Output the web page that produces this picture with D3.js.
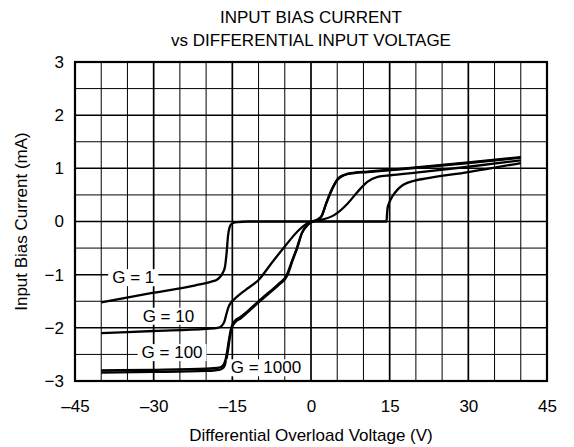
<!DOCTYPE html>
<html>
<head>
<meta charset="utf-8">
<script src="https://cdn.jsdelivr.net/npm/d3@7"></script>
<style>
  body { margin: 0; background: #fff; }
  text { font-family: Arial, "Liberation Sans", sans-serif; fill: #000; }
</style>
</head>
<body>
<div id="chart"></div>
<script>
// values (V, mA)
var g1X = [-40, -30, -22, -19, -18, -17.3, -16.8, -16.4, -16.1, -15.8, -15.5, -15.2, -14.7, -14, -12, 0, 14.4, 14.5, 14.6, 14.9, 15.5, 16.5, 17.6, 19.8, 22, 30, 40];
var g1Y = [-1.52, -1.34, -1.2, -1.13, -1.1, -1.04, -0.96, -0.85, -0.6, -0.25, -0.1, -0.05, -0.02, -0.01, 0, 0, 0, 0.15, 0.25, 0.35, 0.47, 0.6, 0.69, 0.77, 0.81, 0.93, 1.1];

var g10X = [-40, -30, -20, -17.8, -17, -16.5, -16.1, -15.7, -15.2, -14.5, -13.7, -12.4, -10, -7.5, -5, -2.3, -0.6, 0, 1.9, 4.4, 7, 8.9, 10.8, 12.7, 15.2, 20, 30, 40];
var g10Y = [-2.1, -2.06, -2.02, -2.0, -1.96, -1.88, -1.73, -1.6, -1.52, -1.45, -1.38, -1.28, -1.1, -0.78, -0.47, -0.16, -0.03, 0, 0.03, 0.12, 0.34, 0.56, 0.75, 0.84, 0.87, 0.92, 1.03, 1.15];

var g100X = [-40, -30, -20, -17.5, -16.8, -16.3, -16, -15.6, -15.2, -14.6, -13.5, -12, -10, -8, -6, -4.6, -3.7, -2.7, -1.75, -0.6, 0.3, 1, 1.9, 2.9, 3.9, 5, 6.3, 8.2, 10.8, 17, 30, 40];
var g100Y = [-2.8, -2.79, -2.77, -2.75, -2.71, -2.6, -2.45, -2.2, -2.0, -1.88, -1.8, -1.68, -1.5, -1.33, -1.16, -1.0, -0.76, -0.5, -0.22, -0.06, 0, 0.02, 0.08, 0.34, 0.58, 0.78, 0.87, 0.91, 0.93, 0.98, 1.1, 1.2];

var g1000X = [-40, -30, -20, -17.5, -16.7, -16.2, -15.9, -15.5, -15.1, -14.5, -13.4, -12, -10, -8, -6, -4.5, -3.6, -2.6, -1.7, -0.5, 0.35, 1.1, 2, 3, 4, 5.1, 6.4, 8.3, 10.8, 17, 30, 40];
var g1000Y = [-2.84, -2.83, -2.81, -2.79, -2.75, -2.63, -2.47, -2.2, -2.0, -1.9, -1.82, -1.7, -1.52, -1.35, -1.18, -1.01, -0.76, -0.49, -0.21, -0.05, 0, 0.03, 0.1, 0.37, 0.61, 0.8, 0.88, 0.92, 0.94, 0.99, 1.11, 1.21];

var seriesNames = ["G = 1", "G = 10", "G = 100", "G = 1000"];
// label anchors (left x, baseline y) in data units
var labelX = [-37.9, -32.1, -32.3, -15.3];
var labelY = [-1.16, -1.885, -2.57, -2.855];

var xTicks = [-45, -30, -15, 0, 15, 30, 45];
var yTicks = [-3, -2, -1, 0, 1, 2, 3];

var w = 574, h = 447;
var margin = { top: 62, right: 27, bottom: 66, left: 75 };

var svg = d3.select("#chart").append("svg")
  .attr("width", w)
  .attr("height", h);

var xScale = d3.scaleLinear()
  .domain([-45, 45])
  .range([margin.left, w - margin.right]);
var yScale = d3.scaleLinear()
  .domain([-3, 3])
  .range([h - margin.bottom, margin.top]);

// grid
var grid = svg.append("g").attr("class", "grid");
grid.selectAll(".vline")
  .data(d3.range(-40, 45, 5))
  .enter()
  .append("line")
  .attr("x1", function(d) { return xScale(d); })
  .attr("x2", function(d) { return xScale(d); })
  .attr("y1", yScale(3))
  .attr("y2", yScale(-3))
  .attr("stroke", "#000")
  .attr("stroke-width", function(d) { return d % 15 === 0 ? 1.7 : 1; });
grid.selectAll(".hline")
  .data(d3.range(-2.5, 3, 0.5))
  .enter()
  .append("line")
  .attr("x1", xScale(-45))
  .attr("x2", xScale(45))
  .attr("y1", function(d) { return yScale(d); })
  .attr("y2", function(d) { return yScale(d); })
  .attr("stroke", "#000")
  .attr("stroke-width", function(d) { return d % 1 === 0 ? 1.5 : 1; });

svg.append("rect")
  .attr("x", xScale(-45))
  .attr("y", yScale(3))
  .attr("width", xScale(45) - xScale(-45))
  .attr("height", yScale(-3) - yScale(3))
  .attr("fill", "none")
  .attr("stroke", "#000")
  .attr("stroke-width", 2.2);

// axes (labels only, the frame is drawn above)
var xAxis = d3.axisBottom(xScale)
  .tickValues(xTicks)
  .tickSize(0)
  .tickPadding(19)
  .tickFormat(function(d) { return d < 0 ? "\u2013" + Math.abs(d) : d; });
var yAxis = d3.axisLeft(yScale)
  .tickValues(yTicks)
  .tickSize(0)
  .tickPadding(11)
  .tickFormat(function(d) { return d < 0 ? "\u2212" + Math.abs(d) : d; });

svg.append("g")
  .attr("class", "x-axis")
  .attr("transform", "translate(0," + yScale(-3) + ")")
  .call(xAxis);
svg.append("g")
  .attr("class", "y-axis")
  .attr("transform", "translate(" + xScale(-45) + ",0)")
  .call(yAxis);
svg.selectAll(".domain").remove();
svg.selectAll(".tick text")
  .attr("font-size", 17)
  .attr("font-family", "Arial, 'Liberation Sans', sans-serif")
  .attr("fill", "#000");

// curves
var line = d3.line()
  .x(function(d) { return xScale(d[0]); })
  .y(function(d) { return yScale(d[1]); })
  .curve(d3.curveMonotoneX);

var curves = [d3.zip(g1X, g1Y), d3.zip(g10X, g10Y), d3.zip(g100X, g100Y), d3.zip(g1000X, g1000Y)];
svg.selectAll(".curve")
  .data(curves)
  .enter()
  .append("path")
  .attr("class", "curve")
  .attr("d", line)
  .attr("fill", "none")
  .attr("stroke", "#000")
  .attr("stroke-width", 2.3);

// curve labels with white boxes
seriesNames.forEach(function(name, i) {
  var g = svg.append("g");
  var t = g.append("text")
    .attr("x", xScale(labelX[i]))
    .attr("y", yScale(labelY[i]))
    .attr("font-size", 17)
    .text(name);
  var bb = t.node().getBBox();
  g.insert("rect", "text")
    .attr("x", bb.x - 4)
    .attr("y", bb.y + 1)
    .attr("width", bb.width + 8)
    .attr("height", bb.height - 2)
    .attr("fill", "#fff");
});

// titles
svg.append("text")
  .attr("x", (xScale(-45) + xScale(45)) / 2)
  .attr("y", 23)
  .attr("text-anchor", "middle")
  .attr("font-size", 17)
  .text("INPUT BIAS CURRENT");
svg.append("text")
  .attr("x", (xScale(-45) + xScale(45)) / 2)
  .attr("y", 46)
  .attr("text-anchor", "middle")
  .attr("font-size", 17)
  .text("vs DIFFERENTIAL INPUT VOLTAGE");
svg.append("text")
  .attr("x", (xScale(-45) + xScale(45)) / 2)
  .attr("y", 441)
  .attr("text-anchor", "middle")
  .attr("font-size", 17)
  .text("Differential Overload Voltage (V)");
svg.append("text")
  .attr("transform", "translate(27," + yScale(0) + ")rotate(-90)")
  .attr("text-anchor", "middle")
  .attr("font-size", 17)
  .text("Input Bias Current (mA)");
</script>
</body>
</html>
